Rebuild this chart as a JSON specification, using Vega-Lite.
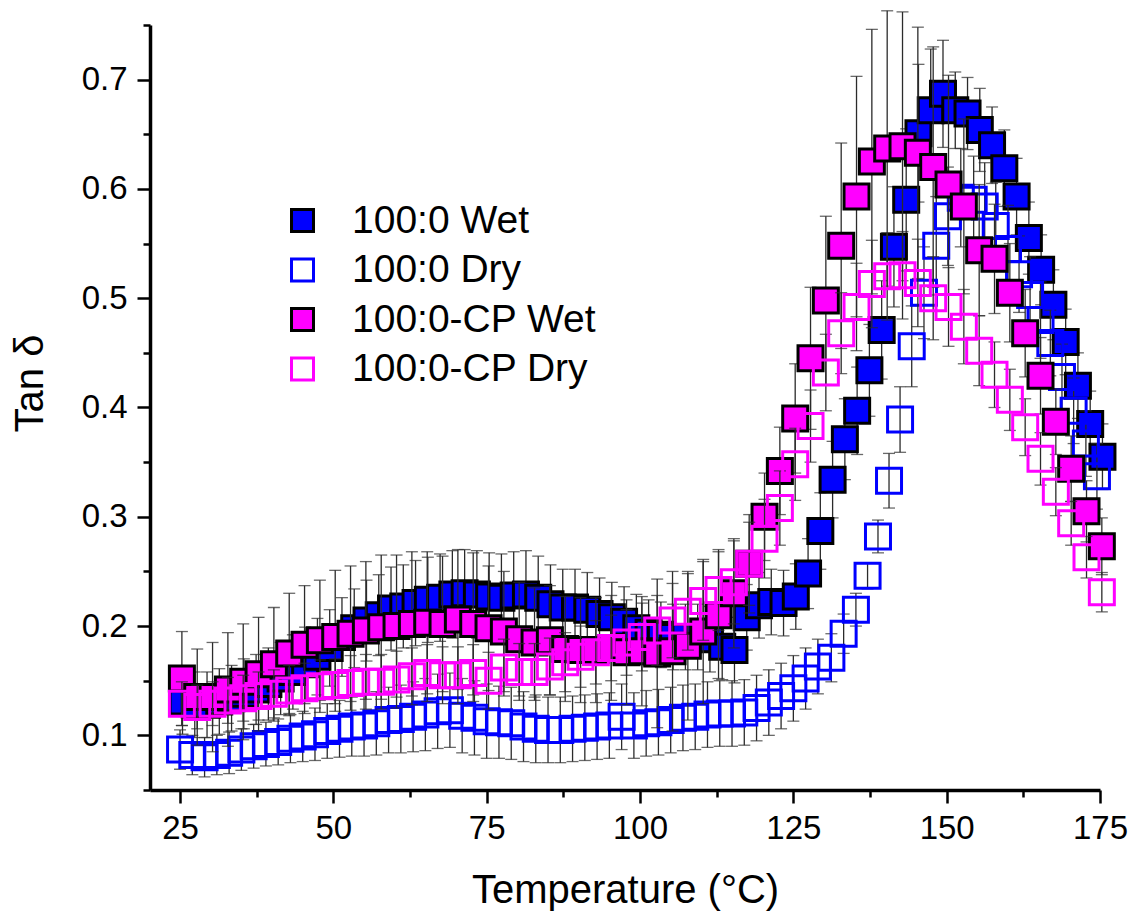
{
"$schema": "https://vega.github.io/schema/vega-lite/v6.json",
"width": 950, "height": 765,
"autosize": {"type": "none"},
"padding": {"left": 150, "top": 25, "right": 32, "bottom": 121},
"background": "white",
"config": {"view": {"stroke": null}, "font": "Liberation Sans"},
"datasets": {"d": [
{"s":"100:0 Wet","t":25.4,"v":0.131,"e":0.03},{"s":"100:0 Wet","t":27.4,"v":0.128,"e":0.03},{"s":"100:0 Wet","t":29.4,"v":0.128,"e":0.03},{"s":"100:0 Wet","t":31.4,"v":0.131,"e":0.03},{"s":"100:0 Wet","t":33.4,"v":0.134,"e":0.03},{"s":"100:0 Wet","t":35.4,"v":0.138,"e":0.032},{"s":"100:0 Wet","t":37.4,"v":0.142,"e":0.032},{"s":"100:0 Wet","t":39.4,"v":0.147,"e":0.033},{"s":"100:0 Wet","t":41.4,"v":0.152,"e":0.033},{"s":"100:0 Wet","t":43.4,"v":0.158,"e":0.034},{"s":"100:0 Wet","t":45.4,"v":0.165,"e":0.034},{"s":"100:0 Wet","t":47.4,"v":0.172,"e":0.035},{"s":"100:0 Wet","t":49.4,"v":0.18,"e":0.035},{"s":"100:0 Wet","t":51.4,"v":0.19,"e":0.036},{"s":"100:0 Wet","t":53.4,"v":0.198,"e":0.036},{"s":"100:0 Wet","t":55.4,"v":0.205,"e":0.037},{"s":"100:0 Wet","t":57.4,"v":0.21,"e":0.037},{"s":"100:0 Wet","t":59.4,"v":0.216,"e":0.038},{"s":"100:0 Wet","t":61.4,"v":0.218,"e":0.038},{"s":"100:0 Wet","t":63.4,"v":0.221,"e":0.039},{"s":"100:0 Wet","t":65.4,"v":0.224,"e":0.039},{"s":"100:0 Wet","t":67.4,"v":0.226,"e":0.04},{"s":"100:0 Wet","t":69.4,"v":0.229,"e":0.04},{"s":"100:0 Wet","t":71.4,"v":0.23,"e":0.04},{"s":"100:0 Wet","t":73.4,"v":0.229,"e":0.04},{"s":"100:0 Wet","t":75.4,"v":0.227,"e":0.04},{"s":"100:0 Wet","t":77.4,"v":0.226,"e":0.04},{"s":"100:0 Wet","t":79.4,"v":0.228,"e":0.04},{"s":"100:0 Wet","t":81.4,"v":0.229,"e":0.04},{"s":"100:0 Wet","t":83.4,"v":0.226,"e":0.038},{"s":"100:0 Wet","t":85.4,"v":0.22,"e":0.036},{"s":"100:0 Wet","t":87.4,"v":0.217,"e":0.035},{"s":"100:0 Wet","t":89.4,"v":0.217,"e":0.035},{"s":"100:0 Wet","t":91.4,"v":0.215,"e":0.034},{"s":"100:0 Wet","t":93.4,"v":0.211,"e":0.033},{"s":"100:0 Wet","t":95.4,"v":0.208,"e":0.032},{"s":"100:0 Wet","t":97.4,"v":0.204,"e":0.032},{"s":"100:0 Wet","t":99.4,"v":0.198,"e":0.031},{"s":"100:0 Wet","t":101.4,"v":0.194,"e":0.03},{"s":"100:0 Wet","t":103.4,"v":0.192,"e":0.03},{"s":"100:0 Wet","t":105.4,"v":0.19,"e":0.03},{"s":"100:0 Wet","t":107.4,"v":0.19,"e":0.03},{"s":"100:0 Wet","t":109.4,"v":0.19,"e":0.03},{"s":"100:0 Wet","t":111.4,"v":0.188,"e":0.03},{"s":"100:0 Wet","t":113.4,"v":0.181,"e":0.03},{"s":"100:0 Wet","t":115.4,"v":0.178,"e":0.03},{"s":"100:0 Wet","t":117.4,"v":0.208,"e":0.03},{"s":"100:0 Wet","t":119.4,"v":0.219,"e":0.03},{"s":"100:0 Wet","t":121.4,"v":0.222,"e":0.03},{"s":"100:0 Wet","t":123.4,"v":0.221,"e":0.03},{"s":"100:0 Wet","t":125.4,"v":0.227,"e":0.03},{"s":"100:0 Wet","t":127.4,"v":0.248,"e":0.032},{"s":"100:0 Wet","t":129.4,"v":0.287,"e":0.035},{"s":"100:0 Wet","t":131.4,"v":0.334,"e":0.035},{"s":"100:0 Wet","t":133.4,"v":0.371,"e":0.037},{"s":"100:0 Wet","t":135.4,"v":0.397,"e":0.04},{"s":"100:0 Wet","t":137.4,"v":0.434,"e":0.042},{"s":"100:0 Wet","t":139.4,"v":0.471,"e":0.045},{"s":"100:0 Wet","t":141.4,"v":0.547,"e":0.055},{"s":"100:0 Wet","t":143.4,"v":0.59,"e":0.065},{"s":"100:0 Wet","t":145.4,"v":0.651,"e":0.063},{"s":"100:0 Wet","t":147.4,"v":0.672,"e":0.056},{"s":"100:0 Wet","t":149.4,"v":0.687,"e":0.049},{"s":"100:0 Wet","t":151.4,"v":0.672,"e":0.035},{"s":"100:0 Wet","t":153.4,"v":0.669,"e":0.033},{"s":"100:0 Wet","t":155.4,"v":0.654,"e":0.038},{"s":"100:0 Wet","t":157.4,"v":0.64,"e":0.035},{"s":"100:0 Wet","t":159.4,"v":0.619,"e":0.035},{"s":"100:0 Wet","t":161.4,"v":0.593,"e":0.035},{"s":"100:0 Wet","t":163.4,"v":0.555,"e":0.033},{"s":"100:0 Wet","t":165.4,"v":0.526,"e":0.032},{"s":"100:0 Wet","t":167.4,"v":0.494,"e":0.032},{"s":"100:0 Wet","t":169.4,"v":0.46,"e":0.03},{"s":"100:0 Wet","t":171.4,"v":0.42,"e":0.03},{"s":"100:0 Wet","t":173.4,"v":0.385,"e":0.03},{"s":"100:0 Wet","t":175.4,"v":0.355,"e":0.03},
{"s":"100:0 Dry","t":25,"v":0.087,"e":0.018},{"s":"100:0 Dry","t":27,"v":0.082,"e":0.018},{"s":"100:0 Dry","t":29,"v":0.08,"e":0.018},{"s":"100:0 Dry","t":31,"v":0.082,"e":0.018},{"s":"100:0 Dry","t":33,"v":0.084,"e":0.019},{"s":"100:0 Dry","t":35,"v":0.087,"e":0.019},{"s":"100:0 Dry","t":37,"v":0.09,"e":0.02},{"s":"100:0 Dry","t":39,"v":0.092,"e":0.02},{"s":"100:0 Dry","t":41,"v":0.094,"e":0.021},{"s":"100:0 Dry","t":43,"v":0.097,"e":0.022},{"s":"100:0 Dry","t":45,"v":0.099,"e":0.023},{"s":"100:0 Dry","t":47,"v":0.101,"e":0.024},{"s":"100:0 Dry","t":49,"v":0.104,"e":0.025},{"s":"100:0 Dry","t":51,"v":0.106,"e":0.026},{"s":"100:0 Dry","t":53,"v":0.108,"e":0.027},{"s":"100:0 Dry","t":55,"v":0.109,"e":0.028},{"s":"100:0 Dry","t":57,"v":0.111,"e":0.029},{"s":"100:0 Dry","t":59,"v":0.114,"e":0.03},{"s":"100:0 Dry","t":61,"v":0.115,"e":0.031},{"s":"100:0 Dry","t":63,"v":0.117,"e":0.032},{"s":"100:0 Dry","t":65,"v":0.119,"e":0.033},{"s":"100:0 Dry","t":67,"v":0.122,"e":0.034},{"s":"100:0 Dry","t":69,"v":0.123,"e":0.034},{"s":"100:0 Dry","t":71,"v":0.118,"e":0.034},{"s":"100:0 Dry","t":73,"v":0.116,"e":0.034},{"s":"100:0 Dry","t":75,"v":0.113,"e":0.034},{"s":"100:0 Dry","t":77,"v":0.112,"e":0.033},{"s":"100:0 Dry","t":79,"v":0.111,"e":0.033},{"s":"100:0 Dry","t":81,"v":0.108,"e":0.032},{"s":"100:0 Dry","t":83,"v":0.106,"e":0.031},{"s":"100:0 Dry","t":85,"v":0.105,"e":0.03},{"s":"100:0 Dry","t":87,"v":0.105,"e":0.03},{"s":"100:0 Dry","t":89,"v":0.106,"e":0.03},{"s":"100:0 Dry","t":91,"v":0.107,"e":0.03},{"s":"100:0 Dry","t":93,"v":0.108,"e":0.03},{"s":"100:0 Dry","t":95,"v":0.109,"e":0.03},{"s":"100:0 Dry","t":97,"v":0.117,"e":0.03},{"s":"100:0 Dry","t":99,"v":0.109,"e":0.03},{"s":"100:0 Dry","t":101,"v":0.111,"e":0.03},{"s":"100:0 Dry","t":103,"v":0.112,"e":0.03},{"s":"100:0 Dry","t":105,"v":0.114,"e":0.03},{"s":"100:0 Dry","t":107,"v":0.116,"e":0.03},{"s":"100:0 Dry","t":109,"v":0.117,"e":0.03},{"s":"100:0 Dry","t":111,"v":0.119,"e":0.03},{"s":"100:0 Dry","t":113,"v":0.12,"e":0.03},{"s":"100:0 Dry","t":115,"v":0.12,"e":0.03},{"s":"100:0 Dry","t":117,"v":0.121,"e":0.03},{"s":"100:0 Dry","t":119,"v":0.125,"e":0.03},{"s":"100:0 Dry","t":121,"v":0.13,"e":0.03},{"s":"100:0 Dry","t":123,"v":0.136,"e":0.03},{"s":"100:0 Dry","t":125,"v":0.143,"e":0.03},{"s":"100:0 Dry","t":127,"v":0.152,"e":0.028},{"s":"100:0 Dry","t":129,"v":0.163,"e":0.025},{"s":"100:0 Dry","t":131.2,"v":0.171,"e":0.022},{"s":"100:0 Dry","t":133.2,"v":0.193,"e":0.018},{"s":"100:0 Dry","t":135.2,"v":0.215,"e":0.015},{"s":"100:0 Dry","t":137.1,"v":0.246,"e":0.012},{"s":"100:0 Dry","t":138.8,"v":0.282,"e":0.015},{"s":"100:0 Dry","t":140.6,"v":0.333,"e":0.025},{"s":"100:0 Dry","t":142.4,"v":0.389,"e":0.03},{"s":"100:0 Dry","t":144.3,"v":0.456,"e":0.037},{"s":"100:0 Dry","t":146.3,"v":0.505,"e":0.042},{"s":"100:0 Dry","t":148.3,"v":0.548,"e":0.045},{"s":"100:0 Dry","t":150.2,"v":0.575,"e":0.045},{"s":"100:0 Dry","t":152.3,"v":0.592,"e":0.045},{"s":"100:0 Dry","t":154.4,"v":0.59,"e":0.04},{"s":"100:0 Dry","t":156.2,"v":0.584,"e":0.04},{"s":"100:0 Dry","t":158,"v":0.566,"e":0.04},{"s":"100:0 Dry","t":160,"v":0.545,"e":0.04},{"s":"100:0 Dry","t":161.8,"v":0.522,"e":0.035},{"s":"100:0 Dry","t":163.6,"v":0.503,"e":0.035},{"s":"100:0 Dry","t":165.3,"v":0.48,"e":0.035},{"s":"100:0 Dry","t":166.9,"v":0.459,"e":0.03},{"s":"100:0 Dry","t":168.8,"v":0.428,"e":0.03},{"s":"100:0 Dry","t":170.7,"v":0.397,"e":0.03},{"s":"100:0 Dry","t":172.7,"v":0.367,"e":0.03},{"s":"100:0 Dry","t":174.5,"v":0.337,"e":0.03},
{"s":"100:0-CP Wet","t":25.3,"v":0.152,"e":0.043},{"s":"100:0-CP Wet","t":27.8,"v":0.135,"e":0.044},{"s":"100:0-CP Wet","t":30.3,"v":0.135,"e":0.05},{"s":"100:0-CP Wet","t":32.8,"v":0.142,"e":0.052},{"s":"100:0-CP Wet","t":35.3,"v":0.149,"e":0.053},{"s":"100:0-CP Wet","t":37.8,"v":0.156,"e":0.052},{"s":"100:0-CP Wet","t":40.3,"v":0.165,"e":0.052},{"s":"100:0-CP Wet","t":42.8,"v":0.175,"e":0.055},{"s":"100:0-CP Wet","t":45.3,"v":0.183,"e":0.054},{"s":"100:0-CP Wet","t":47.8,"v":0.187,"e":0.055},{"s":"100:0-CP Wet","t":50.3,"v":0.19,"e":0.061},{"s":"100:0-CP Wet","t":52.8,"v":0.193,"e":0.062},{"s":"100:0-CP Wet","t":55.3,"v":0.196,"e":0.063},{"s":"100:0-CP Wet","t":57.8,"v":0.199,"e":0.066},{"s":"100:0-CP Wet","t":60.3,"v":0.2,"e":0.065},{"s":"100:0-CP Wet","t":62.8,"v":0.202,"e":0.066},{"s":"100:0-CP Wet","t":65.3,"v":0.203,"e":0.065},{"s":"100:0-CP Wet","t":67.8,"v":0.202,"e":0.062},{"s":"100:0-CP Wet","t":70.3,"v":0.206,"e":0.064},{"s":"100:0-CP Wet","t":72.8,"v":0.202,"e":0.065},{"s":"100:0-CP Wet","t":75.3,"v":0.198,"e":0.057},{"s":"100:0-CP Wet","t":77.8,"v":0.195,"e":0.055},{"s":"100:0-CP Wet","t":80.3,"v":0.188,"e":0.052},{"s":"100:0-CP Wet","t":82.8,"v":0.185,"e":0.05},{"s":"100:0-CP Wet","t":85.3,"v":0.187,"e":0.05},{"s":"100:0-CP Wet","t":87.8,"v":0.179,"e":0.048},{"s":"100:0-CP Wet","t":90.3,"v":0.178,"e":0.048},{"s":"100:0-CP Wet","t":92.8,"v":0.178,"e":0.048},{"s":"100:0-CP Wet","t":95.3,"v":0.18,"e":0.048},{"s":"100:0-CP Wet","t":97.8,"v":0.176,"e":0.048},{"s":"100:0-CP Wet","t":100.3,"v":0.177,"e":0.05},{"s":"100:0-CP Wet","t":102.8,"v":0.175,"e":0.068},{"s":"100:0-CP Wet","t":105.3,"v":0.177,"e":0.073},{"s":"100:0-CP Wet","t":107.8,"v":0.182,"e":0.068},{"s":"100:0-CP Wet","t":110.3,"v":0.195,"e":0.066},{"s":"100:0-CP Wet","t":112.8,"v":0.21,"e":0.058},{"s":"100:0-CP Wet","t":115.3,"v":0.23,"e":0.05},{"s":"100:0-CP Wet","t":117.8,"v":0.257,"e":0.045},{"s":"100:0-CP Wet","t":120.3,"v":0.3,"e":0.04},{"s":"100:0-CP Wet","t":122.8,"v":0.342,"e":0.04},{"s":"100:0-CP Wet","t":125.3,"v":0.39,"e":0.05},{"s":"100:0-CP Wet","t":127.8,"v":0.445,"e":0.065},{"s":"100:0-CP Wet","t":130.3,"v":0.498,"e":0.077},{"s":"100:0-CP Wet","t":132.8,"v":0.548,"e":0.094},{"s":"100:0-CP Wet","t":135.3,"v":0.593,"e":0.11},{"s":"100:0-CP Wet","t":137.8,"v":0.625,"e":0.121},{"s":"100:0-CP Wet","t":140.3,"v":0.637,"e":0.126},{"s":"100:0-CP Wet","t":142.8,"v":0.639,"e":0.123},{"s":"100:0-CP Wet","t":145.3,"v":0.633,"e":0.115},{"s":"100:0-CP Wet","t":147.8,"v":0.62,"e":0.11},{"s":"100:0-CP Wet","t":150.3,"v":0.604,"e":0.1},{"s":"100:0-CP Wet","t":152.8,"v":0.584,"e":0.08},{"s":"100:0-CP Wet","t":155.3,"v":0.544,"e":0.06},{"s":"100:0-CP Wet","t":157.8,"v":0.536,"e":0.05},{"s":"100:0-CP Wet","t":160.3,"v":0.505,"e":0.045},{"s":"100:0-CP Wet","t":162.8,"v":0.468,"e":0.04},{"s":"100:0-CP Wet","t":165.3,"v":0.429,"e":0.035},{"s":"100:0-CP Wet","t":167.8,"v":0.387,"e":0.03},{"s":"100:0-CP Wet","t":170.3,"v":0.344,"e":0.03},{"s":"100:0-CP Wet","t":172.8,"v":0.305,"e":0.028},{"s":"100:0-CP Wet","t":175.3,"v":0.273,"e":0.026},
{"s":"100:0-CP Dry","t":25.3,"v":0.129,"e":0.02},{"s":"100:0-CP Dry","t":27.8,"v":0.126,"e":0.02},{"s":"100:0-CP Dry","t":30.3,"v":0.129,"e":0.02},{"s":"100:0-CP Dry","t":32.8,"v":0.132,"e":0.021},{"s":"100:0-CP Dry","t":35.3,"v":0.134,"e":0.021},{"s":"100:0-CP Dry","t":37.8,"v":0.136,"e":0.022},{"s":"100:0-CP Dry","t":40.3,"v":0.138,"e":0.022},{"s":"100:0-CP Dry","t":42.8,"v":0.141,"e":0.023},{"s":"100:0-CP Dry","t":45.3,"v":0.143,"e":0.023},{"s":"100:0-CP Dry","t":47.8,"v":0.145,"e":0.024},{"s":"100:0-CP Dry","t":50.3,"v":0.146,"e":0.024},{"s":"100:0-CP Dry","t":52.8,"v":0.148,"e":0.025},{"s":"100:0-CP Dry","t":55.3,"v":0.149,"e":0.025},{"s":"100:0-CP Dry","t":57.8,"v":0.149,"e":0.025},{"s":"100:0-CP Dry","t":60.3,"v":0.151,"e":0.026},{"s":"100:0-CP Dry","t":62.8,"v":0.154,"e":0.026},{"s":"100:0-CP Dry","t":65.3,"v":0.157,"e":0.026},{"s":"100:0-CP Dry","t":67.8,"v":0.155,"e":0.026},{"s":"100:0-CP Dry","t":70.3,"v":0.155,"e":0.026},{"s":"100:0-CP Dry","t":72.8,"v":0.157,"e":0.026},{"s":"100:0-CP Dry","t":75.3,"v":0.15,"e":0.026},{"s":"100:0-CP Dry","t":77.8,"v":0.162,"e":0.026},{"s":"100:0-CP Dry","t":80.3,"v":0.158,"e":0.026},{"s":"100:0-CP Dry","t":82.8,"v":0.158,"e":0.026},{"s":"100:0-CP Dry","t":85.3,"v":0.163,"e":0.026},{"s":"100:0-CP Dry","t":87.8,"v":0.167,"e":0.027},{"s":"100:0-CP Dry","t":90.3,"v":0.172,"e":0.028},{"s":"100:0-CP Dry","t":92.8,"v":0.176,"e":0.029},{"s":"100:0-CP Dry","t":95.3,"v":0.18,"e":0.03},{"s":"100:0-CP Dry","t":97.8,"v":0.185,"e":0.03},{"s":"100:0-CP Dry","t":100.3,"v":0.19,"e":0.031},{"s":"100:0-CP Dry","t":102.8,"v":0.196,"e":0.032},{"s":"100:0-CP Dry","t":105.3,"v":0.205,"e":0.034},{"s":"100:0-CP Dry","t":107.8,"v":0.213,"e":0.035},{"s":"100:0-CP Dry","t":110.3,"v":0.223,"e":0.036},{"s":"100:0-CP Dry","t":112.8,"v":0.233,"e":0.037},{"s":"100:0-CP Dry","t":115.3,"v":0.24,"e":0.038},{"s":"100:0-CP Dry","t":117.8,"v":0.257,"e":0.038},{"s":"100:0-CP Dry","t":120.3,"v":0.28,"e":0.036},{"s":"100:0-CP Dry","t":122.8,"v":0.308,"e":0.034},{"s":"100:0-CP Dry","t":125.3,"v":0.348,"e":0.033},{"s":"100:0-CP Dry","t":127.8,"v":0.383,"e":0.033},{"s":"100:0-CP Dry","t":130.3,"v":0.432,"e":0.035},{"s":"100:0-CP Dry","t":132.8,"v":0.468,"e":0.037},{"s":"100:0-CP Dry","t":135.3,"v":0.492,"e":0.04},{"s":"100:0-CP Dry","t":137.8,"v":0.513,"e":0.04},{"s":"100:0-CP Dry","t":140.3,"v":0.52,"e":0.04},{"s":"100:0-CP Dry","t":142.8,"v":0.521,"e":0.04},{"s":"100:0-CP Dry","t":145.3,"v":0.514,"e":0.04},{"s":"100:0-CP Dry","t":147.8,"v":0.5,"e":0.038},{"s":"100:0-CP Dry","t":150.3,"v":0.492,"e":0.036},{"s":"100:0-CP Dry","t":152.8,"v":0.474,"e":0.034},{"s":"100:0-CP Dry","t":155.3,"v":0.452,"e":0.032},{"s":"100:0-CP Dry","t":157.8,"v":0.43,"e":0.03},{"s":"100:0-CP Dry","t":160.3,"v":0.407,"e":0.028},{"s":"100:0-CP Dry","t":162.8,"v":0.382,"e":0.026},{"s":"100:0-CP Dry","t":165.3,"v":0.353,"e":0.024},{"s":"100:0-CP Dry","t":167.8,"v":0.323,"e":0.022},{"s":"100:0-CP Dry","t":170.3,"v":0.294,"e":0.02},{"s":"100:0-CP Dry","t":172.8,"v":0.263,"e":0.019},{"s":"100:0-CP Dry","t":175.3,"v":0.231,"e":0.018}
]},
"data": {"name": "d"},
"encoding": {
  "x": {"field": "t", "type": "quantitative",
    "scale": {"domain": [20.1, 175], "nice": false, "zero": false},
    "axis": {"title": "Temperature (°C)", "values": [25, 37.5, 50, 62.5, 75, 87.5, 100, 112.5, 125, 137.5, 150, 162.5, 175],
      "labelExpr": "datum.value % 25 === 0 ? format(datum.value, 'd') : ''",
      "grid": false, "domainColor": "black", "domainWidth": 3.5, "tickColor": "black", "tickWidth": 2.5,
      "tickSize": {"condition": {"test": "datum.value % 25 === 0", "value": 13}, "value": 7},
      "labelFont": "Liberation Sans", "labelFontSize": 33, "labelColor": "black", "labelPadding": 9,
      "labelOverlap": false, "labelFlush": false, "labelBound": false,
      "titleFont": "Liberation Sans", "titleFontSize": 40, "titleFontWeight": "normal", "titleColor": "black",
      "titleBaseline": "alphabetic", "titleY": 112}},
  "y": {"field": "v", "type": "quantitative",
    "scale": {"domain": [0.05, 0.75], "nice": false, "zero": false},
    "axis": {"title": "Tan δ", "values": [0.05, 0.1, 0.15, 0.2, 0.25, 0.3, 0.35, 0.4, 0.45, 0.5, 0.55, 0.6, 0.65, 0.7, 0.75],
      "labelExpr": "abs(datum.value * 10 - round(datum.value * 10)) < 0.001 ? format(datum.value, '.1f') : ''",
      "grid": false, "domainColor": "black", "domainWidth": 3.5, "tickColor": "black", "tickWidth": 2.5,
      "tickSize": {"condition": {"test": "abs(datum.value * 10 - round(datum.value * 10)) < 0.001", "value": 13}, "value": 7},
      "labelFont": "Liberation Sans", "labelFontSize": 33, "labelColor": "black", "labelPadding": 10,
      "labelOverlap": false, "labelFlush": false, "labelBound": false,
      "titleFont": "Liberation Sans", "titleFontSize": 40, "titleFontWeight": "normal", "titleColor": "black",
      "titleAngle": 270, "titleBaseline": "alphabetic", "titleAlign": "center", "titleX": -108, "titleY": 358}}
},
"layer": [
  {"transform": [{"filter": {"field": "s", "equal": "100:0 Wet"}}],
   "mark": {"type": "errorbar", "ticks": true, "size": 12, "thickness": 1.3, "color": "#2b2b2b"},
   "encoding": {"yError": {"field": "e"}}},
  {"transform": [{"filter": {"field": "s", "equal": "100:0 Wet"}}],
   "mark": {"type": "square", "size": 625, "strokeWidth": 3, "opacity": 1},
   "encoding": {
     "fill": {"field": "s", "type": "nominal", "scale": {"domain": ["100:0 Wet", "100:0 Dry", "100:0-CP Wet", "100:0-CP Dry"], "range": ["#0000ff", "transparent", "#ff00ff", "transparent"]},
       "legend": {"title": null, "orient": "none", "legendX": 133, "legendY": 176, "symbolType": "square", "symbolSize": 484, "symbolStrokeWidth": 3, "labelFontSize": 39, "labelFont": "Liberation Sans", "labelColor": "black", "labelOffset": 30, "rowPadding": 9.5, "padding": 0, "symbolOpacity": 1, "labelLimit": 0}},
     "stroke": {"field": "s", "type": "nominal", "scale": {"domain": ["100:0 Wet", "100:0 Dry", "100:0-CP Wet", "100:0-CP Dry"], "range": ["#000000", "#0000ff", "#000000", "#ff00ff"]},
       "legend": {"title": null, "orient": "none", "legendX": 133, "legendY": 176, "symbolType": "square", "symbolSize": 484, "symbolStrokeWidth": 3, "labelFontSize": 39, "labelFont": "Liberation Sans", "labelColor": "black", "labelOffset": 30, "rowPadding": 9.5, "padding": 0, "symbolOpacity": 1, "labelLimit": 0}}}},
  {"transform": [{"filter": {"field": "s", "equal": "100:0 Dry"}}],
   "mark": {"type": "errorbar", "ticks": true, "size": 12, "thickness": 1.3, "color": "#2b2b2b"},
   "encoding": {"yError": {"field": "e"}}},
  {"transform": [{"filter": {"field": "s", "equal": "100:0 Dry"}}],
   "mark": {"type": "square", "size": 625, "strokeWidth": 3, "opacity": 1},
   "encoding": {
     "fill": {"field": "s", "type": "nominal", "scale": {"domain": ["100:0 Wet", "100:0 Dry", "100:0-CP Wet", "100:0-CP Dry"], "range": ["#0000ff", "transparent", "#ff00ff", "transparent"]},
       "legend": {"title": null, "orient": "none", "legendX": 133, "legendY": 176, "symbolType": "square", "symbolSize": 484, "symbolStrokeWidth": 3, "labelFontSize": 39, "labelFont": "Liberation Sans", "labelColor": "black", "labelOffset": 30, "rowPadding": 9.5, "padding": 0, "symbolOpacity": 1, "labelLimit": 0}},
     "stroke": {"field": "s", "type": "nominal", "scale": {"domain": ["100:0 Wet", "100:0 Dry", "100:0-CP Wet", "100:0-CP Dry"], "range": ["#000000", "#0000ff", "#000000", "#ff00ff"]},
       "legend": {"title": null, "orient": "none", "legendX": 133, "legendY": 176, "symbolType": "square", "symbolSize": 484, "symbolStrokeWidth": 3, "labelFontSize": 39, "labelFont": "Liberation Sans", "labelColor": "black", "labelOffset": 30, "rowPadding": 9.5, "padding": 0, "symbolOpacity": 1, "labelLimit": 0}}}},
  {"transform": [{"filter": {"field": "s", "equal": "100:0-CP Wet"}}],
   "mark": {"type": "errorbar", "ticks": true, "size": 12, "thickness": 1.3, "color": "#2b2b2b"},
   "encoding": {"yError": {"field": "e"}}},
  {"transform": [{"filter": {"field": "s", "equal": "100:0-CP Wet"}}],
   "mark": {"type": "square", "size": 625, "strokeWidth": 3, "opacity": 1},
   "encoding": {
     "fill": {"field": "s", "type": "nominal", "scale": {"domain": ["100:0 Wet", "100:0 Dry", "100:0-CP Wet", "100:0-CP Dry"], "range": ["#0000ff", "transparent", "#ff00ff", "transparent"]},
       "legend": {"title": null, "orient": "none", "legendX": 133, "legendY": 176, "symbolType": "square", "symbolSize": 484, "symbolStrokeWidth": 3, "labelFontSize": 39, "labelFont": "Liberation Sans", "labelColor": "black", "labelOffset": 30, "rowPadding": 9.5, "padding": 0, "symbolOpacity": 1, "labelLimit": 0}},
     "stroke": {"field": "s", "type": "nominal", "scale": {"domain": ["100:0 Wet", "100:0 Dry", "100:0-CP Wet", "100:0-CP Dry"], "range": ["#000000", "#0000ff", "#000000", "#ff00ff"]},
       "legend": {"title": null, "orient": "none", "legendX": 133, "legendY": 176, "symbolType": "square", "symbolSize": 484, "symbolStrokeWidth": 3, "labelFontSize": 39, "labelFont": "Liberation Sans", "labelColor": "black", "labelOffset": 30, "rowPadding": 9.5, "padding": 0, "symbolOpacity": 1, "labelLimit": 0}}}},
  {"transform": [{"filter": {"field": "s", "equal": "100:0-CP Dry"}}],
   "mark": {"type": "errorbar", "ticks": true, "size": 12, "thickness": 1.3, "color": "#2b2b2b"},
   "encoding": {"yError": {"field": "e"}}},
  {"transform": [{"filter": {"field": "s", "equal": "100:0-CP Dry"}}],
   "mark": {"type": "square", "size": 625, "strokeWidth": 3, "opacity": 1},
   "encoding": {
     "fill": {"field": "s", "type": "nominal", "scale": {"domain": ["100:0 Wet", "100:0 Dry", "100:0-CP Wet", "100:0-CP Dry"], "range": ["#0000ff", "transparent", "#ff00ff", "transparent"]},
       "legend": {"title": null, "orient": "none", "legendX": 133, "legendY": 176, "symbolType": "square", "symbolSize": 484, "symbolStrokeWidth": 3, "labelFontSize": 39, "labelFont": "Liberation Sans", "labelColor": "black", "labelOffset": 30, "rowPadding": 9.5, "padding": 0, "symbolOpacity": 1, "labelLimit": 0}},
     "stroke": {"field": "s", "type": "nominal", "scale": {"domain": ["100:0 Wet", "100:0 Dry", "100:0-CP Wet", "100:0-CP Dry"], "range": ["#000000", "#0000ff", "#000000", "#ff00ff"]},
       "legend": {"title": null, "orient": "none", "legendX": 133, "legendY": 176, "symbolType": "square", "symbolSize": 484, "symbolStrokeWidth": 3, "labelFontSize": 39, "labelFont": "Liberation Sans", "labelColor": "black", "labelOffset": 30, "rowPadding": 9.5, "padding": 0, "symbolOpacity": 1, "labelLimit": 0}}}}
]
}
